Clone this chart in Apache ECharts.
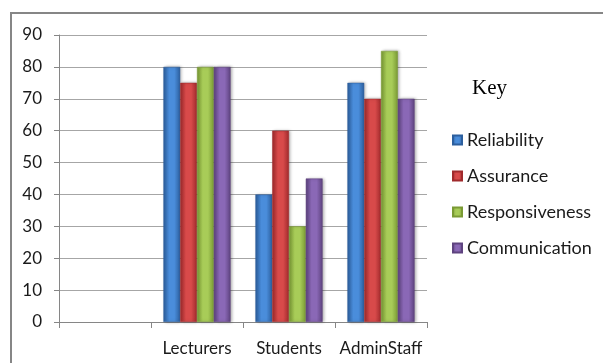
<!DOCTYPE html>
<html>
<head>
<meta charset="utf-8">
<script src="https://cdn.jsdelivr.net/npm/echarts@6/dist/echarts.min.js"></script>
<style>
  html, body { margin: 0; padding: 0; background: #fff; }
  #chart { width: 603px; height: 363px; }
</style>
</head>
<body>
<div id="chart"></div>
<script>
// Survey groups (the first slot is left blank on the axis)
const categories = ['', 'Lecturers', 'Students', 'AdminStaff'];

// Scores per quality dimension
const reliability    = [null, 80, 40, 75];
const assurance      = [null, 75, 60, 70];
const responsiveness = [null, 80, 30, 85];
const communication  = [null, 80, 45, 70];

const yTicks = [0, 10, 20, 30, 40, 50, 60, 70, 80, 90];

const seriesNames = ['Reliability', 'Assurance', 'Responsiveness', 'Communication'];
const seriesData = [reliability, assurance, responsiveness, communication];

// Edge / centre shades for a rounded-looking bar face
const palette = [
  ['#2c5f9e', '#4a8ddb'],
  ['#a02a2c', '#d84a4a'],
  ['#7a9a34', '#a8cc58'],
  ['#5e437f', '#8a68b6']
];

function faceGradient(c) {
  return new echarts.graphic.LinearGradient(0, 0, 1, 0, [
    { offset: 0, color: c[0] },
    { offset: 0.35, color: c[1] },
    { offset: 0.65, color: c[1] },
    { offset: 1, color: c[0] }
  ]);
}

const chart = echarts.init(document.getElementById('chart'), null, { renderer: 'canvas' });

const axisFont = 'Lato, "Open Sans", sans-serif';

chart.setOption({
  animation: false,
  backgroundColor: '#ffffff',
  graphic: [
    {
      type: 'rect',
      shape: { x: 11, y: 13, width: 700, height: 500 },
      style: { fill: 'none', stroke: '#868686', lineWidth: 2 },
      z: 0
    },
    {
      type: 'text',
      x: 472,
      y: 88,
      style: {
        text: 'Key',
        fill: '#000',
        verticalAlign: 'middle',
        font: '21px "Liberation Serif", "DejaVu Serif", serif'
      }
    }
  ],
  legend: {
    orient: 'vertical',
    left: 447,
    top: 126,
    itemWidth: 9,
    itemHeight: 9,
    itemGap: 18,
    icon: 'rect',
    textStyle: { fontFamily: axisFont, fontSize: 18, color: '#1a1a1a' },
    data: seriesNames
  },
  grid: {
    left: 59,
    right: 176,
    top: 35,
    bottom: 41,
    containLabel: false
  },
  xAxis: {
    type: 'category',
    data: categories,
    axisLine: { lineStyle: { color: '#868686', width: 1 } },
    axisTick: { show: true, length: 6, lineStyle: { color: '#868686' } },
    axisLabel: {
      interval: 0,
      hideOverlap: false,
      fontFamily: axisFont,
      fontSize: 17,
      color: '#1a1a1a',
      margin: 18
    }
  },
  yAxis: {
    type: 'value',
    min: yTicks[0],
    max: yTicks[yTicks.length - 1],
    interval: 10,
    axisLine: { show: true, lineStyle: { color: '#868686', width: 1 } },
    axisTick: { show: true, length: 5, lineStyle: { color: '#868686' } },
    axisLabel: { fontFamily: axisFont, fontSize: 17, color: '#1a1a1a', margin: 17 },
    splitLine: { lineStyle: { color: '#a6a6a6', width: 1 } }
  },
  series: seriesNames.map((name, i) => ({
    name: name,
    type: 'bar',
    data: seriesData[i],
    barGap: '0%',
    barCategoryGap: '27%',
    itemStyle: {
      color: faceGradient(palette[i]),
      borderColor: palette[i][0],
      borderWidth: 0.5,
      shadowColor: 'rgba(0,0,0,0.35)',
      shadowBlur: 3,
      shadowOffsetX: 1.5,
      shadowOffsetY: 0
    }
  }))
});
</script>
</body>
</html>
